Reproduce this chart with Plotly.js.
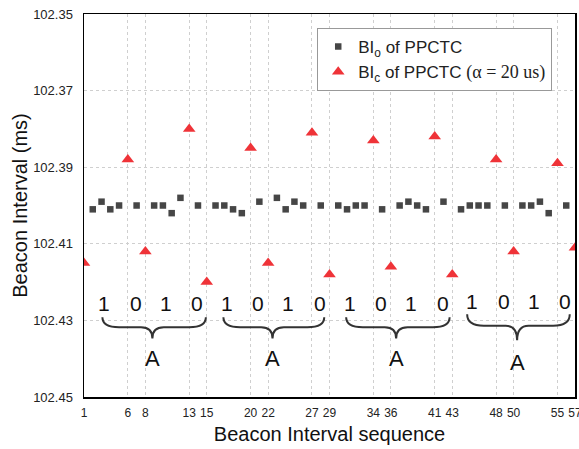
<!DOCTYPE html>
<html>
<head>
<meta charset="utf-8">
<script src="https://cdn.plot.ly/plotly-3.0.1.min.js"></script>
<style>html,body{margin:0;padding:0;background:#fff;}#chart{width:579px;height:449px;}</style>
</head>
<body>
<div id="chart"></div>
<script>
// ---- data ----
const xTickVals = [1, 6, 8, 13, 15, 20, 22, 27, 29, 34, 36, 41, 43, 48, 50, 55, 57];
const xTickText = ['1', '6', '8', '13', '15', '20', '22', '27', '29', '34', '36', '41', '43', '48', '50', '55', '57'];
const yTickVals = [102.35, 102.37, 102.39, 102.41, 102.43, 102.45];
const yTickText = ['102.35', '102.37', '102.39', '102.41', '102.43', '102.45'];

const biOX = [2, 3, 4, 5, 7, 9, 10, 11, 12, 14, 16, 17, 18, 19, 21, 23, 24, 25, 26, 28,
              30, 31, 32, 33, 35, 37, 38, 39, 40, 42, 44, 45, 46, 47, 49, 51, 52, 53, 54, 56];
const biOY = [102.401, 102.399, 102.401, 102.400, 102.400, 102.400, 102.400, 102.402, 102.398, 102.400,
              102.400, 102.400, 102.401, 102.402, 102.399, 102.398, 102.401, 102.399, 102.400, 102.400,
              102.400, 102.401, 102.400, 102.400, 102.401, 102.400, 102.399, 102.400, 102.401, 102.399,
              102.401, 102.400, 102.400, 102.400, 102.400, 102.400, 102.400, 102.399, 102.402, 102.400];

const biCX = [1, 6, 8, 13, 15, 20, 22, 27, 29, 34, 36, 41, 43, 48, 50, 55, 57];
const biCY = [102.415, 102.388, 102.412, 102.380, 102.420, 102.385, 102.415, 102.381, 102.418,
              102.383, 102.416, 102.382, 102.418, 102.388, 102.412, 102.389, 102.411];

const bitLabels = ['1', '0', '1', '0'];
const groupLabel = 'A';
const seriesNames = ['BI<sub>o</sub> of PPCTC',
  'BI<sub>c</sub> of PPCTC <span style="font-family:\'Liberation Serif\',serif;font-size:18px">(α = 20 us)</span>'];

// ---- annotation geometry (layout only) ----
const groupOffsets = [0, 14, 28, 42];
const bitOffsets = [3.3, 6.9, 10.3, 13.9];
const braceX0 = [3.1, 16.9, 30.9, 44.7];
const braceX1 = [14.9, 28.4, 42.7, 56.4];
const braceXc = [8.8, 22.5, 36.6, 50.4];
const braceTop = [102.4292, 102.4292, 102.4292, 102.4284];
const braceMid = [102.4318, 102.4318, 102.4318, 102.4314];
const braceTip = [102.4347, 102.4347, 102.4347, 102.4352];
const bitY = [102.4255, 102.4255, 102.4255, 102.4250];
const labelY = [102.4399, 102.4399, 102.4399, 102.4410];

function bracePath(x0, x1, xc, yT, yM, yP) {
  const re = 1.9, rt = 1.3;
  return `M${x0},${yT} Q${x0},${yM} ${x0 + re},${yM} L${xc - rt},${yM} ` +
         `Q${xc},${yM} ${xc},${yP} Q${xc},${yM} ${xc + rt},${yM} ` +
         `L${x1 - re},${yM} Q${x1},${yM} ${x1},${yT}`;
}

const font = "'Liberation Sans', Arial, sans-serif";
const annotations = [];
const shapes = [];
groupOffsets.forEach((g, k) => {
  bitLabels.forEach((b, i) => {
    annotations.push({x: bitOffsets[i] + g, y: bitY[k], xref: 'x', yref: 'y', text: b,
      showarrow: false, font: {family: font, size: 21, color: '#111'}});
  });
  annotations.push({x: braceXc[k], y: labelY[k], xref: 'x', yref: 'y', text: groupLabel,
    showarrow: false, font: {family: font, size: 22, color: '#111'}});
  shapes.push({type: 'path', xref: 'x', yref: 'y',
    path: bracePath(braceX0[k], braceX1[k], braceXc[k], braceTop[k], braceMid[k], braceTip[k]),
    line: {color: '#333', width: 2}});
});

const traces = [
  {x: biOX, y: biOY, type: 'scatter', mode: 'markers', name: seriesNames[0],
   marker: {symbol: 'square', size: 6.5, color: '#464646'}},
  {x: biCX, y: biCY, type: 'scatter', mode: 'markers', name: seriesNames[1],
   marker: {symbol: 'triangle-up', size: 11, color: '#ef3338'}}
];

const layout = {
  width: 579, height: 449,
  margin: {l: 84, r: 4, t: 14, b: 52},
  paper_bgcolor: '#fff', plot_bgcolor: '#fff',
  font: {family: font, color: '#222'},
  showlegend: true,
  legend: {x: 0.475, y: 0.9634, xanchor: 'left', yanchor: 'top',
    bgcolor: '#fff', bordercolor: '#999', borderwidth: 1,
    font: {family: font, size: 17, color: '#222'}},
  xaxis: {
    range: [1, 57], tickvals: xTickVals, ticktext: xTickText,
    showgrid: true, gridcolor: '#cfcfcf', griddash: 'dot', gridwidth: 1,
    zeroline: false, showline: true, linecolor: '#000', linewidth: 1.5, mirror: true,
    ticks: '', ticklabelstandoff: 4, ticklabeloverflow: 'allow',
    tickfont: {family: font, size: 12, color: '#222'},
    title: {text: 'Beacon Interval sequence', font: {family: font, size: 20, color: '#111'}, standoff: 8}
  },
  yaxis: {
    range: [102.45, 102.35], tickvals: yTickVals, ticktext: yTickText,
    showgrid: true, gridcolor: '#cfcfcf', griddash: 'dot', gridwidth: 1,
    zeroline: false, showline: true, linecolor: '#000', linewidth: 1.5, mirror: true,
    ticks: '', ticklabelstandoff: 7,
    tickfont: {family: font, size: 13, color: '#222'},
    title: {text: 'Beacon Interval (ms)', font: {family: font, size: 20, color: '#111'}, standoff: 0}
  },
  annotations: annotations,
  shapes: shapes
};

Plotly.newPlot('chart', traces, layout, {displayModeBar: false, staticPlot: true});
</script>
</body>
</html>
